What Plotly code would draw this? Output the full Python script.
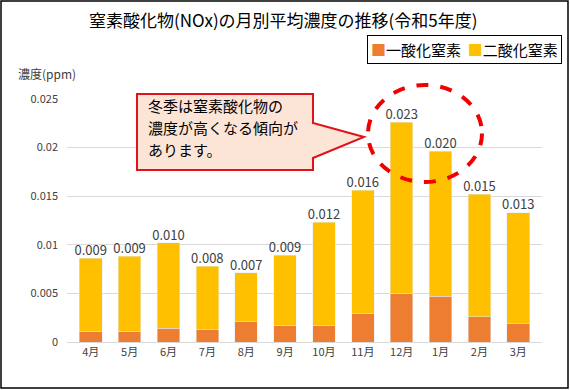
import plotly.graph_objects as go

months = ["4月", "5月", "6月", "7月", "8月", "9月", "10月", "11月", "12月", "1月", "2月", "3月"]
no_vals = [0.0011, 0.0011, 0.0014, 0.0013, 0.0021, 0.0017, 0.0017, 0.0029, 0.0050, 0.0047, 0.0026, 0.0019]
no2_vals = [0.0075, 0.0077, 0.0088, 0.0065, 0.0050, 0.0072, 0.0106, 0.0127, 0.0176, 0.0149, 0.0126, 0.0114]
y_ticks = [0, 0.005, 0.01, 0.015, 0.02, 0.025]
y_tick_labels = ["0", "0.005", "0.01", "0.015", "0.02", "0.025"]
series_names = ["一酸化窒素", "二酸化窒素"]
series_colors = ["#ED7D31", "#FFC000"]
callout_lines = ["冬季は窒素酸化物の", "濃度が高くなる傾向が", "あります。"]

totals = [a + b for a, b in zip(no_vals, no2_vals)]
total_labels = [f"{t:.3f}" for t in totals]

W, H = 570, 390
L, R, T, B = 67, 542, 99, 342
def px(x):
    return (x - L) / (R - L)
def py(y):
    return (B - y) / (B - T)

FONT = "Noto Sans CJK JP"

fig = go.Figure()
fig.add_trace(go.Bar(x=months, y=no_vals, name=series_names[0], marker_color=series_colors[0], showlegend=False))
fig.add_trace(go.Bar(x=months, y=no2_vals, name=series_names[1], marker_color=series_colors[1], showlegend=False))
fig.add_trace(go.Scatter(x=months, y=totals, mode="text", text=total_labels,
                         textposition="top center", showlegend=False,
                         textfont=dict(size=13, color="#404040", family=FONT),
                         hoverinfo="skip"))

callout_pts = [(137, 94), (313, 94), (313, 123), (364, 137), (313, 158), (313, 170), (137, 170)]
path = "M " + " L ".join(f"{px(x):.5f},{py(y):.5f}" for x, y in callout_pts) + " Z"

legend_text = "  ".join(
    f"<span style='color:{c}'>■</span>{n}" for n, c in zip(series_names, series_colors)
)

annotations = [
    dict(text="濃度(ppm)", xref="paper", yref="paper", x=px(16), y=py(73),
         xanchor="left", yanchor="middle", showarrow=False,
         font=dict(size=12, color="#404040", family=FONT)),
    dict(text=legend_text, xref="paper", yref="paper", x=px(562), y=py(35),
         xanchor="right", yanchor="top", showarrow=False,
         bordercolor="#000000", borderwidth=1, borderpad=3, bgcolor="white",
         font=dict(size=15, color="#000000", family=FONT)),
]
for i, line in enumerate(callout_lines):
    annotations.append(dict(text=line, xref="paper", yref="paper", x=px(146), y=py(105 + 22 * i),
                            xanchor="left", yanchor="middle", showarrow=False,
                            font=dict(size=15, color="#000000", family=FONT)))

fig.update_layout(
    width=W, height=H,
    margin=dict(l=L, r=W - R, t=T, b=H - B),
    paper_bgcolor="white", plot_bgcolor="white",
    barmode="stack", bargap=0.42,
    font=dict(family=FONT, color="#404040"),
    showlegend=False,
    title=dict(text="窒素酸化物(NOx)の月別平均濃度の推移(令和5年度)",
               x=0.497, xanchor="center", y=1 - 21 / H, yanchor="middle",
               font=dict(size=17, color="#000000", family=FONT)),
    xaxis=dict(showgrid=False, showline=True, linecolor="#D9D9D9", linewidth=1,
               ticks="", tickfont=dict(size=11, color="#404040", family=FONT)),
    yaxis=dict(range=[0, 0.025], tickvals=y_ticks, ticktext=y_tick_labels,
               showgrid=True, gridcolor="#D9D9D9", gridwidth=1, zeroline=False,
               showline=False, ticks="", ticklabelstandoff=8,
               tickfont=dict(size=11, color="#404040", family=FONT)),
    shapes=[
        dict(type="rect", xref="paper", yref="paper",
             x0=px(1), x1=px(568), y0=py(388), y1=py(1),
             line=dict(color="#000000", width=1.5), fillcolor="rgba(0,0,0,0)", layer="below"),
        dict(type="path", xref="paper", yref="paper", path=path,
             fillcolor="#FCE4D6", line=dict(color="#E0131B", width=2)),
        dict(type="circle", xref="paper", yref="paper",
             x0=px(368), x1=px(482), y0=py(182), y1=py(85),
             line=dict(color="#F00000", width=4, dash="dash")),
    ],
    annotations=annotations,
)

fig.write_html("out.html", config={"displayModeBar": False},
               post_script="document.body.style.margin='0';")
